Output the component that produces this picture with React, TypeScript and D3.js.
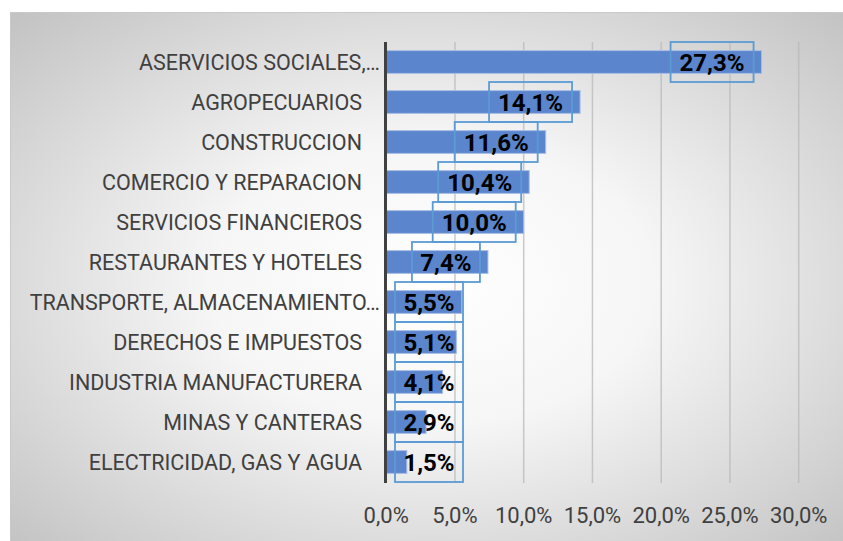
import React from "react";
import * as d3 from "d3";

const categories = [
  "ASERVICIOS SOCIALES,…",
  "AGROPECUARIOS",
  "CONSTRUCCION",
  "COMERCIO Y REPARACION",
  "SERVICIOS FINANCIEROS",
  "RESTAURANTES Y HOTELES",
  "TRANSPORTE, ALMACENAMIENTO…",
  "DERECHOS E IMPUESTOS",
  "INDUSTRIA MANUFACTURERA",
  "MINAS Y CANTERAS",
  "ELECTRICIDAD, GAS Y AGUA",
];
const values = [27.3, 14.1, 11.6, 10.4, 10.0, 7.4, 5.5, 5.1, 4.1, 2.9, 1.5];
const ticks = [0, 5, 10, 15, 20, 25, 30];

const W = 843;
const H = 541;

const fmt = (v: number) => v.toFixed(1).replace(".", ",") + "%";

export default function App() {
  const x = d3.scaleLinear().domain([0, 30]).range([386.2, 798.7]);
  const y = d3
    .scaleBand<string>()
    .domain(categories)
    .range([42, 482])
    .paddingInner(0.43)
    .paddingOuter(0.215);
  const font = "Roboto, 'Liberation Sans', sans-serif";
  return (
    <div style={{ position: "absolute", left: 0, top: 0 }}>
      <svg width={W} height={H} style={{ display: "block" }}>
        <defs>
          <radialGradient id="bg" cx="50%" cy="50%" r="75%">
            <stop offset="0%" stopColor="#ffffff" />
            <stop offset="35%" stopColor="#f6f6f6" />
            <stop offset="100%" stopColor="#bdbdbd" />
          </radialGradient>
        </defs>
        <rect x={0} y={0} width={W} height={H} fill="#ffffff" />
        <rect x={10.5} y={12.5} width={W} height={H} fill="url(#bg)" stroke="#c9c9c9" strokeWidth={1} />
        {ticks.slice(1).map((t) => (
          <line
            key={"g" + t}
            x1={x(t)}
            x2={x(t)}
            y1={42}
            y2={483}
            stroke="#b8b8b8"
            strokeOpacity={0.75}
            strokeWidth={1.5}
          />
        ))}
        {categories.map((c, i) => (
          <rect
            key={"b" + c}
            x={x(0)}
            y={y(c)!}
            width={x(values[i]) - x(0)}
            height={y.bandwidth()}
            fill="#5b85cc"
            stroke="#a9bde6"
            strokeWidth={1}
          />
        ))}
        <line x1={385.5} x2={385.5} y1={42} y2={483} stroke="#404040" strokeWidth={3} />
        {categories.map((c) => (
          <text
            key={"c" + c}
            x={c.endsWith("…") ? 380 : 362}
            y={y(c)! + y.bandwidth() / 2}
            dy="0.35em"
            textAnchor="end"
            fontFamily={font}
            fontSize={21.5}
            fill="#404040"
          >
            {c}
          </text>
        ))}
        {categories.map((c, i) => {
          const label = fmt(values[i]);
          const bw = label.length >= 5 ? 83 : 68;
          const right = Math.max(x(values[i]) - 8, 395 + bw);
          const left = right - bw;
          const cy = y(c)! + y.bandwidth() / 2;
          return (
            <g key={"l" + c}>
              <rect
                x={left}
                y={cy - 20}
                width={bw}
                height={40}
                fill="none"
                stroke="#5b9bd5"
                strokeWidth={1.8}
              />
              <text
                x={left + bw / 2}
                y={cy}
                dy="0.36em"
                textAnchor="middle"
                fontFamily={font}
                fontWeight="bold"
                fontSize={24}
                fill="#000000"
              >
                {label}
              </text>
            </g>
          );
        })}
        {ticks.map((t) => (
          <text
            key={"t" + t}
            x={x(t)}
            y={523}
            textAnchor="middle"
            fontFamily={font}
            fontSize={22}
            fill="#404040"
          >
            {fmt(t)}
          </text>
        ))}
      </svg>
    </div>
  );
}
